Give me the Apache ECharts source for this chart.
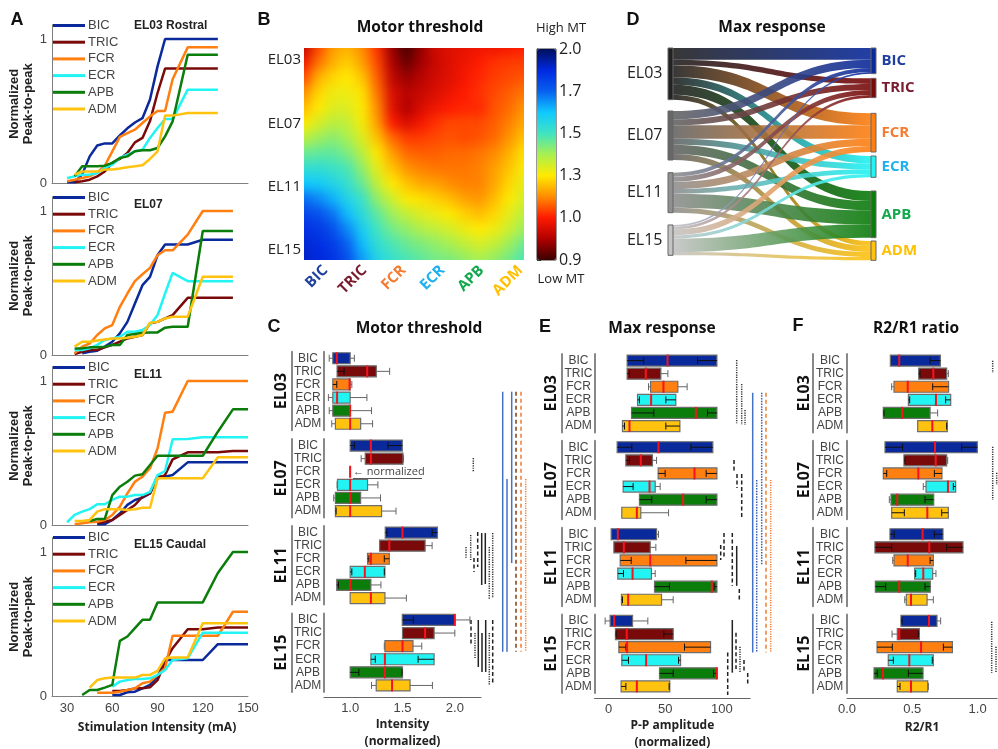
<!DOCTYPE html>
<html>
<head>
<meta charset="UTF-8">
<title>Motor threshold and max response</title>
<script type="text/javascript" src="https://cdn.jsdelivr.net/npm/echarts@6/dist/echarts.min.js"></script>
<style>
body { margin: 0; background: #fff; }
#chart { position: absolute; left: 0; top: 0; width: 998px; height: 749px; z-index: 2; }
#heatClip { position: absolute; left: 304px; top: 48px; width: 220px; height: 212px; overflow: hidden; z-index: 1; }
#heat { position: absolute; left: -22px; top: -23px; width: 264px; height: 257px; filter: blur(6px); }
</style>
</head>
<body>
<div id="heatClip"><div id="heat"></div></div>
<div id="chart"></div>
<script type="text/javascript">
var muscles = ['BIC', 'TRIC', 'FCR', 'ECR', 'APB', 'ADM'];
var muscleColors = ['#0a2a9c', '#7a0a0a', '#ff7f10', '#22f4f4', '#0b7d0b', '#ffc20e'];
var muscleLabelColors = ['#1f3f9e', '#7a1a2e', '#f47b30', '#1fb0f0', '#12a84e', '#ffc000'];
var electrodes = ['EL03', 'EL07', 'EL11', 'EL15'];

// panel A, stimulation intensity steps (mA)
var stim = [30, 35, 40, 45, 50, 55, 60, 65, 70, 75, 80, 85, 90, 95, 100, 110, 120, 130, 140, 150];
var n = null;
var bic03 = [.005,.005,.06,.185,.26,.275,.275,.33,.38,.42,.45,.58,.81,1,1,1,1,1];
var tric03 = [n,.005,.012,.023,.046,.08,.14,.167,.208,.282,.313,.43,.625,.795,.795,.795,.795,.795];
var fcr03 = [.012,.023,.035,.046,.074,.12,.22,.32,.347,.37,.417,.463,.5,.5,.72,.942,.942,.942];
var ecr03 = [.035,.046,.058,.058,.07,.104,.127,.174,.197,.22,.231,.313,.382,.444,.444,.648,.648,.648];
var apb03 = [n,.046,.116,.116,.116,.12,.14,.174,.185,.22,.227,.227,.243,.324,.428,.89,.89,.89];
var adm03 = [n,.058,.08,.08,.08,.093,.093,.1,.11,.116,.123,.167,.22,.468,.468,.486,.486,.486];

var bic07 = [n,n,.012,.023,.03,.058,.092,.15,.23,.358,.485,.543,.693,.767,.767,.767,.8,.8,.8];
var tric07 = [n,.007,.023,.035,.035,.053,.07,.092,.115,.127,.139,.22,.23,.254,.277,.397,.397,.397,.397];
var fcr07 = [n,.012,.058,.08,.139,.185,.208,.335,.427,.513,.561,.605,.693,.727,.727,.836,1,1,1];
var ecr07 = [n,.035,.035,.046,.07,.104,.115,.127,.162,.162,.173,.208,.277,.427,.57,.513,.513,.513,.513];
var apb07 = [n,.046,.046,.053,.053,.058,.07,.07,.139,.146,.155,.157,.157,.19,.196,.196,.861,.861,.861];
var adm07 = [n,.058,.092,.092,.1,.108,.115,.115,.12,.127,.139,.224,.23,.254,.266,.266,.543,.543,.543];

var bic11 = [n,n,n,n,.005,.005,.035,.08,.14,.174,.19,.22,.336,.336,.347,.435,.435,.435,.435,.435];
var tric11 = [n,n,n,n,.012,.023,.035,.07,.104,.139,.197,.22,.324,.347,.456,.505,.505,.505,.514,.514];
var fcr11 = [n,.005,.012,.019,.023,.035,.07,.127,.22,.3,.336,.394,.532,.78,.787,1,1,1,1,1];
var ecr11 = [.019,.07,.093,.11,.144,.144,.174,.197,.197,.208,.208,.23,.347,.375,.595,.597,.609,.609,.609,.609];
var apb11 = [n,n,n,.028,.042,.042,.208,.266,.3,.343,.352,.417,.481,.481,.481,.481,.481,.648,.803,.803];
var adm11 = [n,.028,.028,.035,.093,.11,.11,.11,.104,.11,.12,.12,.324,.324,.324,.324,.324,.47,.47,.47];

var bic15 = [n,n,n,n,n,n,.007,.007,.026,.03,.053,.077,.135,.25,.25,.25,.25,.36,.36,.36];
var tric15 = [n,n,n,n,n,n,.035,.035,.042,.053,.053,.06,.11,.24,.332,.464,.464,.476,.476,.476];
var fcr15 = [n,n,n,n,.023,.023,.023,.03,.042,.053,.088,.1,.146,.193,.418,.418,.418,.418,.585,.585];
var ecr15 = [n,n,n,n,n,n,.065,.1,.111,.118,.118,.123,.146,.181,.25,.262,.44,.44,.44,.44];
var apb15 = [n,n,.007,.042,.042,.058,.077,.383,.413,.471,.529,.529,.65,.65,.65,.65,.65,.854,1,1];
var adm15 = [n,n,n,.058,.111,.123,.128,.128,.128,.128,.146,.146,.174,.262,.267,.267,.506,.506,.506,.506];

// panel B, read as position on the colour bar (0 = 0.9 ... 5 = 2.0, evenly spaced labels)
var barLabels = ['0.9', '1.0', '1.3', '1.5', '1.7', '2.0'];
var mtLevels = [
  [.6,1.2,1.6,1.7,1.5,1.1,.4,.05,.4,.7,.8,.85,.9,.9,.95,1],
  [.9,1.4,1.7,1.85,1.6,1.2,.5,.2,.45,.65,.8,.9,1,1.1,1.15,1.15],
  [1.2,1.7,1.9,2,1.8,1.3,.6,.4,.55,.7,.8,.95,1.05,1.15,1.2,1.25],
  [1.5,1.9,2.1,2.1,1.95,1.4,.75,.55,.65,.75,.9,1,1.1,1.2,1.3,1.4],
  [1.75,2,2.2,2.2,2,1.5,.8,.5,.75,.9,1,1.05,1.05,1.25,1.35,1.55],
  [2,2.25,2.4,2.35,2.05,1.6,1,.75,.95,1.1,1.2,1.2,1.2,1.3,1.45,1.65],
  [2.4,2.55,2.65,2.5,2.2,1.8,1.35,1.15,1.15,1.2,1.25,1.2,1.25,1.35,1.55,1.8],
  [2.8,2.85,2.85,2.7,2.4,2,1.6,1.35,1.3,1.3,1.35,1.35,1.4,1.5,1.7,1.95],
  [3.15,3.15,3.05,2.95,2.6,2.15,1.8,1.55,1.45,1.4,1.4,1.4,1.45,1.6,1.8,2.05],
  [3.5,3.45,3.3,3.1,2.8,2.35,2,1.8,1.65,1.6,1.5,1.45,1.45,1.65,1.9,2.15],
  [3.95,3.8,3.6,3.3,3.05,2.6,2.3,2,1.95,1.85,1.75,1.6,1.55,1.75,2,2.25],
  [4.25,4.15,3.9,3.55,3.2,2.85,2.55,2.35,2.2,2.1,2,1.85,1.75,1.9,2.15,2.4],
  [4.45,4.35,4.15,3.8,3.4,3,2.75,2.6,2.45,2.35,2.25,2.1,2,2.1,2.3,2.55],
  [4.55,4.45,4.3,4,3.55,3.15,2.95,2.8,2.7,2.6,2.5,2.35,2.25,2.35,2.55,2.8],
  [4.6,4.5,4.4,4.15,3.7,3.3,3.1,2.95,2.85,2.75,2.7,2.6,2.5,2.6,2.75,2.95]
];
var jetColors = ['#3a0000','#b00000','#ff1a00','#ff8c00','#ffea00','#a8f050','#40e4c0','#10c8ff','#0860f0','#0028e0','#00105a'];

// panel D, link widths per electrode, in muscle order
var flow03 = [35, 17, 36, 22, 30, 15];
var flow07 = [25, 18, 40, 18, 28, 18];
var flow11 = [12, 15, 22, 14, 42, 15];
var flow15 = [5, 8, 18, 10, 40, 10];
var electrodeShades = ['#222222', '#666666', '#909090', '#c4c4c4'];
var electrodeY = [0, .2944, .5826, .827];
var muscleY = [0, .1417, .3053, .5047, .6682, .9019];

// panels C, E, F: [whisker low, q1, median, q3, whisker high], one row per muscle
var mtBox03 = [[.8,.834,.872,1,1.04],[.942,.875,1.163,1.25,1.377],[.872,.834,.994,1,1.016],[.792,.834,.875,1,1.16],[.8,.834,1,1,1.204],[.824,.859,1,1.1,1.214]];
var mtBox07 = [[1.04,1,1.198,1.498,1.361],[1.105,1.144,1.198,1.505,1.51],[1,1,1,1,1],[.875,.879,1,1.166,1.265],[.843,.859,1,1.1,1.29],[.866,.859,1,1.3,1.438]];
var mtBox11 = [[1.351,1.335,1.5,1.834,1.783],[1.281,1.281,1.374,1.716,1.783],[1.179,1.166,1.198,1.374,1.326],[1.016,1,1.14,1.332,1.326],[.888,.872,1,1.198,1.294],[1,1,1.198,1.332,1.537]];
var mtBox15 = [[1.604,1.498,2,2,2.144],[1.5,1.5,1.716,1.802,2],[1.326,1.332,1.5,1.6,1.684],[1.24,1.198,1.332,1.802,1.649],[1.083,1,1.332,1.5,1.495],[1.204,1.249,1.4,1.572,1.786]];

var maxBox03 = [[31,16.3,52,95.6,78.5],[18.4,16.3,32.8,46.1,52.3],[35.2,37,48.4,61.1,69.3],[27.2,25.5,37.5,59.3,50.5],[39.9,20.2,77,95.6,87.3],[14,12.2,18.4,62.9,50.5]];
var maxBox07 = [[20.5,7.5,44,92,72.6],[18.4,15.2,28.4,38.7,42.3],[49.9,43.7,75.8,95.6,86.1],[21.6,12.8,36.1,41.1,45.5],[38.1,27.2,65.8,95.6,86.1],[11.6,11.6,24.9,28.4,52.9]];
var maxBox11 = [[2.2,2.2,8.1,42.3,44],[4.6,4.6,13.4,36.7,41.7],[19.9,10.2,36.7,95.6,68.2],[13.1,8.1,21.1,37.8,41.1],[53.7,40.5,91.1,95.6,93.2],[12.2,11.3,17.2,46.7,57]];
var maxBox15 = [[-3.1,1.3,4.9,21.1,34.6],[6.6,6,16,57,48.7],[15.2,9,16.3,90,67],[17.5,11.6,33.1,63.5,61.7],[57,44.9,95.6,95.6,92.6],[15.2,11,24.9,54,53.4]];

var ratioBox03 = [[.332,.332,.4,.715,.636],[.559,.549,.661,.763,.776],[.342,.36,.465,.778,.656],[.48,.47,.681,.794,.755],[.283,.278,.421,.636,.694],[.541,.541,.653,.768,.763]];
var ratioBox07 = [[.426,.291,.674,.998,.878],[.444,.436,.679,.763,.771],[.304,.278,.546,.727,.669],[.584,.605,.773,.832,.814],[.324,.337,.385,.664,.597],[.439,.342,.615,.776,.725]];
var ratioBox11 = [[.362,.329,.579,.735,.669],[.342,.214,.63,.888,.763],[.35,.36,.465,.661,.636],[.526,.518,.584,.656,.681],[.296,.217,.4,.638,.597],[.442,.454,.49,.613,.661]];
var ratioBox15 = [[.421,.413,.628,.689,.717],[.345,.385,.4,.554,.546],[.347,.23,.567,.807,.738],[.355,.316,.477,.661,.653],[.232,.207,.276,.582,.47],[.406,.385,.49,.618,.623]];

// significance lines: [column, row from, row to, style]; rows count muscle rows from the panel top
var sigStyles = [
  { stroke: '#222', dash: null }, { stroke: '#222', dash: [4, 2.5] }, { stroke: '#333', dash: [1.2, 1.2] },
  { stroke: '#4472c4', dash: null }, { stroke: '#843c0c', dash: [4, 3] }, { stroke: '#ed7d31', dash: [4, 3] },
  { stroke: '#ed7d31', dash: [1.2, 1.2] }, { stroke: '#3a5fb0', dash: [1.5, 1.2] }
];
var sigC = [
  [42.7,2.55,22.41,3],[47,9.22,22.41,3],[51.7,2.55,15.64,3],[56,2.55,22.41,4],[61,2.55,22.41,5],[65.7,9.22,22.41,6],
  [13.3,7.62,8.69,2],[6,14.42,15.33,2],[10.7,13.5,15.41,2],[14,15.26,16.33,1],[17.7,13.27,15.94,1],[21.7,13.35,17.32,0],[25.3,13.35,17.24,0],[29.3,14.42,18.39,2],[32.7,13.35,18.31,2],
  [11,19.99,21.9,1],[15,20.98,22.89,2],[18.3,19.99,23.58,0],[22,20.98,23.96,0],[25.7,19.99,23.96,0],[29.3,20.98,24.96,2],[32.7,19.99,24.96,1]
];
var sigE = [
  [21.7,-.05,4.78,2],[26.7,1.78,4.91,2],[30,3.77,4.91,2],
  [37.7,2.44,22.3,3],[46.7,2.44,15.6,7],[51,2.44,22.3,5],[41.7,9.11,22.3,7],[55.7,9.11,22.3,6],
  [19,7.59,8.58,1],[22,8.66,9.72,1],[26.7,8.66,12.02,1],
  [5.7,14.08,15.22,1],[9,13.16,15.14,1],[17.3,13.16,17.2,1],[21.7,14.15,17.2,0],[24.3,17.44,18.43,1],
  [17.3,19.81,23.83,0],[21,20.78,23.55,1],[25,21.85,23.78,2],[12.7,22.3,25.54,1],[29,22.86,23.86,1],[32.7,23.86,24.85,1]
];
var sigF = [
  [7.7,0,.94,2],[7.7,6.57,10.64,2],[11.7,8.56,9.5,2],[6.7,19.94,23.83,2],[11,21.85,23.78,2]
];

var FONT = '"Liberation Sans", Arial, sans-serif';
var HEAD = '"Open Sans", sans-serif';
var axisGrey = '#808080';

var grid = [], xAxis = [], yAxis = [], series = [], legend = [], graphic = [];

function zipStim(values) {
  var out = [];
  values.forEach(function (v, i) { if (v !== null) out.push([stim[i], v]); });
  return out;
}

function addLinePanel(bottom, rows, legendTop, isLast) {
  var g = grid.length;
  grid.push({ left: 52, width: 196, top: bottom - 158.4, height: 158.4, outerBoundsMode: 'none' });
  xAxis.push({
    gridIndex: g, type: 'value', min: 20, max: 150, interval: 10,
    axisLine: { onZero: false, lineStyle: { color: axisGrey, width: 1 } },
    axisTick: { show: false }, splitLine: { show: false },
    axisLabel: {
      show: isLast, color: '#444', fontSize: 13, fontFamily: FONT, margin: 6,
      formatter: function (v) { return v % 30 === 0 ? v : ''; }
    },
    name: isLast ? 'Stimulation Intensity (mA)' : '', nameLocation: 'middle', nameGap: 26,
    nameTextStyle: { fontFamily: HEAD, fontWeight: 'bold', fontSize: 12, color: '#222', padding: [0, 0, 0, 14] }
  });
  yAxis.push({
    gridIndex: g, type: 'value', min: 0, max: 1.1, interval: 1,
    axisLine: { show: true, onZero: false, lineStyle: { color: axisGrey, width: 1 } },
    axisTick: { show: false }, splitLine: { show: false },
    axisLabel: { color: '#444', fontSize: 13, fontFamily: FONT, margin: 5, showMaxLabel: false },
    name: 'Normalized\nPeak-to-peak', nameLocation: 'middle', nameGap: 9,
    nameTextStyle: { fontFamily: FONT, fontWeight: 'bold', fontSize: 13, color: '#222', lineHeight: 14 }
  });
  rows.forEach(function (values, i) {
    series.push({
      type: 'line', name: muscles[i], xAxisIndex: g, yAxisIndex: g, data: zipStim(values),
      showSymbol: false, symbol: 'none', smooth: false, z: 3 + i, silent: true,
      lineStyle: { color: muscleColors[i], width: 2.5 }, itemStyle: { color: muscleColors[i] }
    });
  });
  legend.push({
    data: muscles, orient: 'vertical', left: 53, top: legendTop, icon: 'rect', itemWidth: 32, itemHeight: 3, itemGap: 3.7,
    padding: 0, selectedMode: false, textStyle: { fontFamily: FONT, fontSize: 13, color: '#444', padding: [0, 0, 0, -2] }
  });
}

addLinePanel(183, [bic03, tric03, fcr03, ecr03, apb03, adm03], 19, false);
addLinePanel(355, [bic07, tric07, fcr07, ecr07, apb07, adm07], 191, false);
addLinePanel(525, [bic11, tric11, fcr11, ecr11, apb11, adm11], 361, false);
addLinePanel(696, [bic15, tric15, fcr15, ecr15, apb15, adm15], 531, true);

// panel B axes, the map itself is drawn by the chart under this one
var gMap = grid.length;
grid.push({ left: 306, width: 234, top: 60, height: 190, outerBoundsMode: 'none' });
xAxis.push({
  gridIndex: gMap, type: 'category', data: muscles,
  axisLine: { show: false }, axisTick: { show: false }, offset: 10,
  axisLabel: {
    interval: 0, rotate: 45, margin: 8, fontFamily: HEAD, fontWeight: 'bold', fontSize: 15,
    color: function (v) { return muscleLabelColors[muscles.indexOf(v)]; }
  }
});
yAxis.push({
  gridIndex: gMap, type: 'category', data: electrodes, inverse: true, boundaryGap: false,
  axisLine: { show: false }, axisTick: { show: false },
  axisLabel: { interval: 0, margin: 5, fontFamily: HEAD, fontSize: 15, color: '#222' }
});

// colour bar axis
var gBar = grid.length;
grid.push({ left: 537, width: 19, top: 49, height: 211, show: true, borderColor: '#333', borderWidth: 1, backgroundColor: 'transparent', outerBoundsMode: 'none' });
xAxis.push({ gridIndex: gBar, type: 'value', show: false });
yAxis.push({
  gridIndex: gBar, type: 'category', data: barLabels, boundaryGap: false, position: 'right',
  axisLine: { show: true, lineStyle: { color: '#333' } }, axisTick: { show: true, alignWithLabel: true, length: 4, lineStyle: { color: '#333' } },
  axisLabel: { interval: 0, margin: 3, fontFamily: HEAD, fontSize: 16, color: '#222' }
});

function renderBox(params, api) {
  var row = api.value(0);
  var yMid = api.coord([0, row])[1];
  var boxH = 11, capH = 7;
  var px = function (dim) { return api.coord([api.value(dim), row])[0]; };
  var wl = px(1), q1 = px(2), med = px(3), q3 = px(4), wh = px(5);
  var children = [];
  children.push({
    type: 'rect', shape: { x: q1, y: yMid - boxH / 2, width: q3 - q1, height: boxH },
    style: { fill: muscleColors[row], stroke: '#6e6e6e', lineWidth: 1.2 }
  });
  [[q1, wl, wl >= q1], [q3, wh, wh <= q3]].forEach(function (w) {
    var stroke = w[2] ? '#111' : '#666';
    if (w[0] === w[1]) return;
    children.push({ type: 'line', shape: { x1: w[0], y1: yMid, x2: w[1], y2: yMid }, style: { stroke: stroke, lineWidth: 1 } });
    children.push({ type: 'line', shape: { x1: w[1], y1: yMid - capH / 2, x2: w[1], y2: yMid + capH / 2 }, style: { stroke: stroke, lineWidth: 1 } });
  });
  children.push({
    type: 'rect', shape: { x: med - 1, y: yMid - boxH / 2 - 0.5, width: 2, height: boxH + 1 },
    style: { fill: '#f5141e' }
  });
  return { type: 'group', children: children };
}

function addBoxPanel(cfg) {
  cfg.groups.forEach(function (rows, k) {
    var g = grid.length, last = k === cfg.groups.length - 1;
    var yFirst = yAxis.length;
    grid.push({ left: cfg.axisX, width: cfg.width, top: cfg.tops[k], height: 78.6, outerBoundsMode: 'none' });
    xAxis.push({
      gridIndex: g, type: 'value', min: cfg.min, max: cfg.max, interval: cfg.interval, show: last, offset: 5,
      axisLine: { show: true, onZero: false, lineStyle: { color: '#666', width: 1 } },
      axisTick: { show: false }, splitLine: { show: false },
      axisLabel: { color: '#444', fontSize: 13, fontFamily: FONT, margin: 5, formatter: cfg.fmt, showMaxLabel: cfg.showMax },
      name: cfg.name, nameLocation: 'middle', nameGap: cfg.axisNameGap,
      nameTextStyle: { fontFamily: HEAD, fontWeight: 'bold', fontSize: 12, color: '#222', lineHeight: 17, verticalAlign: 'top' }
    });
    var catAxis = function (extra) {
      var a = {
        gridIndex: g, type: 'category', data: muscles, inverse: true, position: 'left',
        axisLine: { show: true, onZero: false, lineStyle: { color: '#888', width: 2 } }, axisTick: { show: false }, splitLine: { show: false }
      };
      for (var key in extra) a[key] = extra[key];
      return a;
    };
    yAxis.push(catAxis({
      axisLabel: { interval: 0, align: 'center', margin: cfg.labelMargin, fontFamily: FONT, fontSize: 12, color: '#444' }
    }));
    yAxis.push(catAxis({
      offset: cfg.axisX - cfg.barX, axisLabel: { show: false },
      name: electrodes[k], nameLocation: 'middle', nameRotate: 90, nameGap: cfg.nameGap,
      nameTextStyle: { fontFamily: HEAD, fontWeight: 'bold', fontSize: 16, color: '#111' }
    }));
    series.push({
      type: 'custom', xAxisIndex: g, yAxisIndex: yFirst, silent: true, z: 5, renderItem: renderBox,
      encode: { x: [1, 2, 3, 4, 5], y: 0 },
      data: rows.map(function (r, i) { return [i].concat(r); })
    });
  });
}

function renderSig(params, api) {
  var a = api.coord([api.value(0), api.value(1)]);
  var b = api.coord([api.value(0), api.value(2)]);
  var st = sigStyles[api.value(3)];
  return {
    type: 'line', shape: { x1: a[0], y1: a[1], x2: b[0], y2: b[1] },
    style: { stroke: st.stroke, lineWidth: 1.5, lineDash: st.dash, fill: null }
  };
}

function addSigLines(left, width, top, data) {
  var g = grid.length;
  grid.push({ left: left, width: width, top: top, height: 346.9, outerBoundsMode: 'none' });
  xAxis.push({ gridIndex: g, type: 'value', min: 0, max: width, show: false });
  yAxis.push({ gridIndex: g, type: 'value', min: -.5, max: 26, inverse: true, show: false });
  series.push({ type: 'custom', xAxisIndex: g, yAxisIndex: yAxis.length - 1, silent: true, renderItem: renderSig, clip: false, data: data });
}

var tenths = function (v) { return v.toFixed(1); };
addBoxPanel({
  groups: [mtBox03, mtBox07, mtBox11, mtBox15], tops: [351.7, 439, 526, 613.4],
  barX: 292, axisX: 324, width: 157, min: .75, max: 2.25, interval: .25, showMax: false,
  fmt: function (v) { return (v * 2) % 1 === 0 ? v.toFixed(1) : ''; },
  name: 'Intensity\n(normalized)', axisNameGap: 19, labelMargin: 16, nameGap: 3
});
addBoxPanel({
  groups: [maxBox03, maxBox07, maxBox11, maxBox15], tops: [354, 440.7, 527.7, 614.4],
  barX: 562, axisX: 594.5, width: 155.7, min: -12.5, max: 125, interval: 12.5, showMax: false,
  fmt: function (v) { return v % 50 === 0 ? v : ''; },
  name: 'P-P amplitude\n(normalized)', axisNameGap: 19, labelMargin: 16, nameGap: 3
});
addBoxPanel({
  groups: [ratioBox03, ratioBox07, ratioBox11, ratioBox15], tops: [354, 440.7, 527.7, 614.4],
  barX: 813, axisX: 847, width: 150.2, min: 0, max: 1.15, interval: .5, showMax: false,
  fmt: tenths, name: 'R2/R1', axisNameGap: 21, labelMargin: 17, nameGap: 1
});
addSigLines(460, 70, 351.75, sigC);
addSigLines(715, 60, 354.15, sigE);
addSigLines(985, 13, 354.15, sigF);

// panel D
var flows = [flow03, flow07, flow11, flow15];
var sankeyNodes = [], sankeyLinks = [];
electrodes.forEach(function (name, i) {
  sankeyNodes.push({
    name: name, localY: electrodeY[i], depth: 0, itemStyle: { color: electrodeShades[i], borderColor: '#666', borderWidth: 1 },
    label: { position: 'left', distance: 5, fontFamily: HEAD, fontSize: 16, color: '#222' }
  });
});
muscles.forEach(function (name, i) {
  sankeyNodes.push({
    name: name, localY: muscleY[i], depth: 1, itemStyle: { color: muscleColors[i], borderColor: '#666', borderWidth: 1 },
    label: { position: 'right', distance: 5, fontFamily: HEAD, fontSize: 15, fontWeight: 'bold', color: muscleLabelColors[i] }
  });
});
flows.forEach(function (row, i) {
  row.forEach(function (v, j) {
    sankeyLinks.push({ source: electrodes[i], target: muscles[j], value: v });
  });
});
series.push({
  type: 'sankey', left: 668, top: 48, width: 208, height: 214, nodeWidth: 5, nodeGap: 8.6, layoutIterations: 0,
  nodeAlign: 'justify', draggable: false, silent: true, emphasis: { disabled: true },
  data: sankeyNodes, links: sankeyLinks, lineStyle: { color: 'gradient', curveness: .5, opacity: .9 }
});

function txt(text, x, y, font, fill, align) {
  return { type: 'text', x: x, y: y, silent: true, style: { text: text, font: font, fill: fill || '#111', textAlign: align || 'center', textVerticalAlign: 'middle' } };
}
var letterFont = 'bold 18px ' + FONT, titleFont = 'bold 15.5px ' + HEAD, subFont = 'bold 12px ' + FONT;
graphic = [
  txt('A', 17, 20, letterFont), txt('B', 264, 20, letterFont), txt('D', 633, 20, letterFont),
  txt('C', 274, 327, letterFont), txt('E', 545, 327, letterFont), txt('F', 798, 326, letterFont),
  txt('Motor threshold', 420, 28, titleFont), txt('Max response', 772, 28, titleFont),
  txt('Motor threshold', 419, 329, titleFont), txt('Max response', 662, 329, titleFont), txt('R2/R1 ratio', 916, 329, titleFont),
  txt('EL03 Rostral', 134, 26, subFont, '#222', 'left'), txt('EL07', 134, 205, subFont, '#222', 'left'),
  txt('EL11', 134, 375, subFont, '#222', 'left'), txt('EL15 Caudal', 134, 545, subFont, '#222', 'left'),
  txt('High MT', 561, 28, '13px ' + HEAD, '#222'), txt('Low MT', 561, 279, '13px ' + HEAD, '#222'),
  txt('\u2190 normalized', 353, 472, '11px ' + HEAD, '#444', 'left'),
  { type: 'line', silent: true, shape: { x1: 353, y1: 478.5, x2: 422, y2: 478.5 }, style: { stroke: '#555', lineWidth: 1 } }
];

var chart = echarts.init(document.getElementById('chart'));
chart.setOption({
  animation: false,
  textStyle: { fontFamily: FONT },
  grid: grid, xAxis: xAxis, yAxis: yAxis, legend: legend, graphic: graphic, series: series,
  visualMap: {
    type: 'continuous', seriesIndex: [], show: true, min: 0, max: 5, left: 537, top: 49, itemWidth: 19, itemHeight: 211,
    padding: 0, calculable: false, realtime: false, text: null, hoverLink: false, inRange: { color: jetColors }
  }
});

// map cells, the frame rows and columns repeat so the soft edge falls outside the clip
var heatData = [];
var heatCols = [], heatRows = [];
for (var i = -1; i <= 16; i++) heatCols.push(i);
for (var j = -1; j <= 15; j++) heatRows.push(j);
heatRows.forEach(function (r, rj) {
  heatCols.forEach(function (c, ci) {
    var row = mtLevels[Math.max(0, Math.min(14, r))];
    heatData.push([ci, rj, row[Math.max(0, Math.min(15, c))]]);
  });
});
var heatChart = echarts.init(document.getElementById('heat'));
heatChart.setOption({
  animation: false,
  grid: { left: 0, right: 0, top: 0, bottom: 0 },
  xAxis: { type: 'category', data: heatCols, show: false },
  yAxis: { type: 'category', data: heatRows, show: false, inverse: true },
  visualMap: { show: false, min: 0, max: 5, inRange: { color: jetColors } },
  series: [{ type: 'heatmap', data: heatData, silent: true, progressive: 0, itemStyle: { borderWidth: 0 } }]
});
</script>
</body>
</html>
